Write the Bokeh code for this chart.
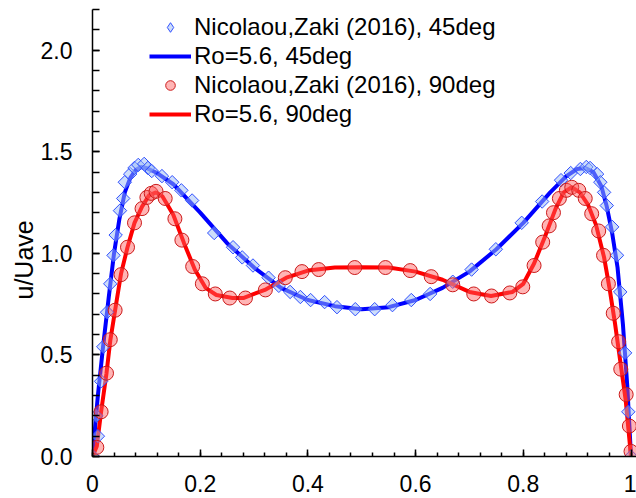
import numpy as np
from bokeh.plotting import figure
from bokeh.models import (Range1d, SingleIntervalTicker, NumeralTickFormatter,
                          Legend, LegendItem, Title)
from bokeh.embed import file_html
from bokeh.resources import INLINE

# ---- data ----
x_ref45 = [0.001, 0.010, 0.007, 0.016, 0.020, 0.027, 0.033, 0.039, 0.043, 0.051,
           0.057, 0.060, 0.070, 0.078, 0.085, 0.096, 0.103, 0.110, 0.129, 0.148,
           0.165, 0.185, 0.226, 0.261, 0.278, 0.298, 0.327, 0.346, 0.367, 0.386,
           0.405, 0.431, 0.454, 0.488, 0.524, 0.557, 0.592, 0.627, 0.669, 0.704,
           0.749, 0.797, 0.835, 0.870, 0.888, 0.906, 0.917, 0.924, 0.937, 0.943,
           0.950, 0.955, 0.965, 0.974, 0.980, 0.989, 0.995, 1.000]
y_ref45 = [0.0, 0.10, 0.20, 0.37, 0.54, 0.71, 0.85, 0.99, 1.09, 1.21,
           1.27, 1.35, 1.39, 1.42, 1.435, 1.44, 1.42, 1.405, 1.38, 1.35,
           1.31, 1.26, 1.10, 1.03, 0.98, 0.94, 0.88, 0.84, 0.81, 0.785,
           0.77, 0.76, 0.735, 0.725, 0.725, 0.745, 0.77, 0.80, 0.86, 0.92,
           1.02, 1.15, 1.255, 1.36, 1.395, 1.415, 1.425, 1.42, 1.39, 1.35,
           1.30, 1.235, 1.13, 0.99, 0.81, 0.51, 0.22, 0.0]

x_ref90 = [0.008, 0.016, 0.026, 0.033, 0.042, 0.053, 0.065, 0.078, 0.092, 0.101,
           0.109, 0.118, 0.135, 0.153, 0.166, 0.186, 0.204, 0.228, 0.255, 0.284,
           0.321, 0.358, 0.389, 0.420, 0.487, 0.544, 0.590, 0.629, 0.669, 0.708,
           0.741, 0.775, 0.799, 0.820, 0.836, 0.848, 0.856, 0.867, 0.880, 0.890,
           0.903, 0.915, 0.927, 0.940, 0.949, 0.958, 0.967, 0.977, 0.981, 0.991,
           0.997, 1.000]
y_ref90 = [0.045, 0.22, 0.41, 0.575, 0.72, 0.895, 1.03, 1.15, 1.22, 1.275,
           1.295, 1.305, 1.27, 1.17, 1.065, 0.935, 0.85, 0.80, 0.78, 0.78,
           0.82, 0.88, 0.91, 0.92, 0.93, 0.93, 0.915, 0.885, 0.845, 0.80,
           0.79, 0.805, 0.835, 0.94, 1.055, 1.135, 1.20, 1.27, 1.31, 1.325,
           1.31, 1.27, 1.195, 1.11, 0.99, 0.85, 0.705, 0.565, 0.43, 0.305,
           0.15, 0.025]

x_sim45 = [0.0, 0.005, 0.01, 0.02, 0.03, 0.04, 0.05, 0.06, 0.07, 0.08, 0.09, 0.10,
           0.12, 0.15, 0.20, 0.25, 0.30, 0.35, 0.40, 0.45, 0.50, 0.55, 0.60, 0.65,
           0.70, 0.75, 0.80, 0.85, 0.88, 0.90, 0.915, 0.93, 0.945, 0.955, 0.965,
           0.975, 0.985, 0.993, 1.0]
y_sim45 = [0.0, 0.15, 0.30, 0.55, 0.78, 1.00, 1.17, 1.30, 1.37, 1.41, 1.425, 1.42,
           1.395, 1.34, 1.20, 1.05, 0.93, 0.83, 0.77, 0.74, 0.725, 0.735, 0.77, 0.83,
           0.91, 1.02, 1.15, 1.30, 1.38, 1.415, 1.42, 1.40, 1.33, 1.23, 1.10,
           0.93, 0.65, 0.35, 0.0]

x_sim90 = [0.0, 0.008, 0.016, 0.026, 0.033, 0.042, 0.053, 0.065, 0.078, 0.092, 0.105,
           0.118, 0.13, 0.15, 0.17, 0.19, 0.21, 0.23, 0.26, 0.28, 0.32, 0.36, 0.40,
           0.45, 0.50, 0.55, 0.60, 0.65, 0.70, 0.74, 0.78, 0.80, 0.82, 0.84, 0.86,
           0.875, 0.89, 0.905, 0.92, 0.935, 0.95, 0.96, 0.97, 0.98, 0.99, 1.0]
y_sim90 = [0.0, 0.05, 0.22, 0.41, 0.57, 0.72, 0.90, 1.03, 1.15, 1.23, 1.285,
           1.30, 1.28, 1.19, 1.05, 0.92, 0.83, 0.795, 0.78, 0.78, 0.82, 0.88, 0.915,
           0.93, 0.932, 0.93, 0.91, 0.87, 0.81, 0.79, 0.81, 0.85, 0.95, 1.08, 1.22,
           1.30, 1.325, 1.30, 1.24, 1.14, 0.98, 0.83, 0.66, 0.47, 0.28, 0.0]

labels = ["Nicolaou,Zaki (2016), 45deg", "Ro=5.6, 45deg",
          "Nicolaou,Zaki (2016), 90deg", "Ro=5.6, 90deg"]
y_axis_title = "u/Uave"

FONT = "Liberation Sans"

p = figure(width=636, height=498, output_backend="svg", toolbar_location=None,
           x_range=Range1d(0, 1.0102), y_range=Range1d(0, 2.2))
p.min_border_left = 92
p.min_border_right = 0
p.min_border_top = 9
p.min_border_bottom = 42
p.outline_line_color = None
p.background_fill_color = "white"
p.border_fill_color = "white"
p.xgrid.grid_line_color = None
p.ygrid.grid_line_color = None

# axes
xa = p.xaxis[0]
xa.ticker = SingleIntervalTicker(interval=0.2, num_minor_ticks=5)
xa.major_tick_in = 7
xa.major_tick_out = 0
xa.minor_tick_in = 4
xa.minor_tick_out = 0
xa.axis_line_width = 1.5
xa.major_tick_line_width = 1.5
xa.minor_tick_line_width = 1.5
xa.axis_line_color = "black"
xa.major_tick_line_color = "black"
xa.minor_tick_line_color = "black"
xa.major_label_text_font = FONT
xa.major_label_text_font_size = "23px"
xa.major_label_text_color = "black"
xa.major_label_standoff = 18

ya = p.yaxis[0]
ya.ticker = SingleIntervalTicker(interval=0.5, num_minor_ticks=5)
ya.formatter = NumeralTickFormatter(format="0.0")
ya.major_tick_in = 7
ya.major_tick_out = 0
ya.minor_tick_in = 7
ya.minor_tick_out = 0
ya.axis_line_width = 1.5
ya.major_tick_line_width = 1.5
ya.minor_tick_line_width = 1.5
ya.axis_line_color = "black"
ya.major_tick_line_color = "black"
ya.minor_tick_line_color = "black"
ya.major_label_text_font = FONT
ya.major_label_text_font_size = "23px"
ya.major_label_text_color = "black"
ya.major_label_standoff = 20

# series
r_l45 = p.line(x_sim45, y_sim45, line_color="#0000ff", line_width=4)
r_l90 = p.line(x_sim90, y_sim90, line_color="#ff0000", line_width=4)
r_m45 = p.scatter(x_ref45, y_ref45, marker="square", angle=np.pi / 4, size=9.5,
                  fill_color="#9bbcf5", fill_alpha=0.5,
                  line_color="#3050ff", line_width=1)
r_m90 = p.scatter(x_ref90, y_ref90, marker="circle", size=14,
                  fill_color="#ff5a5a", fill_alpha=0.45,
                  line_color="#cc1a1a", line_width=1)
# hidden twin of the diamond series, used only for its legend symbol
r_leg45 = p.scatter(x_ref45, y_ref45, marker="diamond", size=16,
                    fill_color="#9bbcf5", fill_alpha=0.5,
                    line_color="#3050ff", line_width=1, visible=False)

legend = Legend(items=[LegendItem(label=labels[0], renderers=[r_leg45]),
                       LegendItem(label=labels[1], renderers=[r_l45]),
                       LegendItem(label=labels[2], renderers=[r_m90]),
                       LegendItem(label=labels[3], renderers=[r_l90])],
                location=(57, 328))
legend.background_fill_alpha = 0
legend.border_line_alpha = 0
legend.padding = 0
legend.margin = 0
legend.spacing = 1
legend.glyph_width = 42
legend.glyph_height = 24
legend.label_standoff = 3
legend.label_text_font = FONT
legend.label_text_font_size = "24px"
legend.label_text_color = "black"
p.add_layout(legend)

ytitle = Title(text=y_axis_title, align="left", offset=157,
               text_font=FONT, text_font_size="25px", text_font_style="normal",
               text_color="black", standoff=0)
p.add_layout(ytitle, "left")

open("out.html", "w").write(file_html(p, INLINE))
